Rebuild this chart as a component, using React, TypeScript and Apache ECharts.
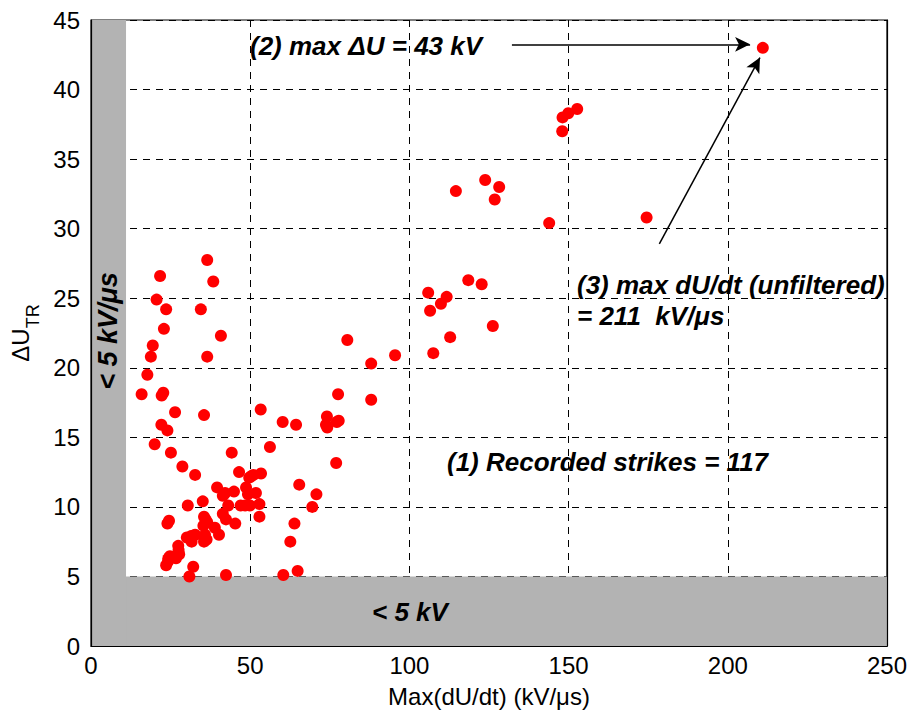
import React, { useEffect, useRef } from "react";
import * as echarts from "echarts";

// Max(dU/dt) in kV/µs for each recorded strike
const rateValues: number[] = [
  36.5, 21.7, 38.4, 20.6, 23.6, 34.5, 22.9, 40.8, 19.4, 18.8,
  36.5, 17.7, 15.9, 22.7, 22.2, 26.4, 35.5, 53.3, 60.2, 64.4,
  22.1, 24.0, 20.0, 25.1, 44.2, 56.2, 28.7, 32.7, 46.5, 49.7,
  51.0, 53.4, 65.4, 39.6, 41.4, 42.1, 44.9, 48.7, 49.3, 51.8,
  35.1, 30.4, 43.1, 47.0, 49.9, 52.9, 69.5, 52.9, 24.5, 24.0,
  35.5, 36.5, 35.3, 41.4, 42.4, 45.3, 63.9, 38.9, 40.2, 30.1,
  32.7, 31.6, 35.8, 36.3, 35.5, 62.6, 27.4, 27.7, 26.7, 24.8,
  23.6, 24.3, 32.1, 30.9, 42.4, 60.4, 64.9, 80.5, 95.5, 107.5,
  88.0, 77.6, 88.0, 74.1, 73.8, 74.2, 77.2, 77.8, 77.0, 70.8,
  114.6, 123.8, 128.2, 126.8, 143.9, 118.5, 122.7, 105.9, 111.7, 109.9,
  106.5, 126.2, 112.8, 148.1, 149.9, 152.7, 148.0, 174.5, 211.0,
  27.5, 24.2, 31.4, 35.6, 50.3, 41.8, 48.4, 36.0,
];

// ΔU_TR in kV for each recorded strike (same order as rateValues)
const deltaValues: number[] = [
  27.75, 26.6, 26.2, 24.9, 24.2, 24.2, 22.8, 22.3, 21.6, 20.8,
  20.8, 19.5, 18.1, 18.2, 18.0, 16.8, 16.6, 17.0, 16.1, 15.9,
  15.9, 15.5, 14.5, 13.9, 13.9, 14.3, 12.9, 12.3, 12.5, 12.1,
  12.3, 12.4, 11.6, 11.4, 10.8, 11.0, 11.1, 11.4, 10.9, 11.0,
  10.4, 10.1, 10.1, 10.1, 10.1, 10.2, 10.0, 9.3, 9.0, 8.8,
  9.3, 8.9, 8.65, 9.5, 9.1, 8.8, 8.8, 8.5, 8.0, 7.8,
  8.0, 7.5, 8.0, 7.65, 7.5, 7.5, 7.2, 6.6, 6.3, 6.45,
  5.8, 6.3, 5.7, 5.0, 5.1, 5.1, 5.4, 22.0, 20.9, 21.05,
  20.3, 18.1, 17.7, 16.5, 15.9, 15.7, 16.1, 16.2, 13.15, 10.9,
  32.7, 33.5, 33.0, 32.1, 30.4, 26.3, 26.0, 25.4, 25.1, 24.6,
  24.1, 23.0, 22.2, 38.0, 38.3, 38.6, 37.0, 30.8, 43.0,
  6.9, 6.1, 7.9, 7.75, 12.2, 10.9, 10.1, 9.1,
];

const xTicks = { min: 0, max: 250, step: 50 };
const yTicks = { min: 0, max: 45, step: 5 };

// Excluded zones: below 5 kV, below the dU/dt threshold
const lowVoltageLimit = 5;
const lowRateLimit = 11;

// Annotation arrows, in data units: [start, end]
const maxDeltaArrow: [number, number][] = [[132.2, 43.25], [207.0, 43.25]];
const maxRateArrow: [number, number][] = [[178.5, 28.9], [210.1, 42.3]];

const FONT = "Arial, 'Liberation Sans', Helvetica, sans-serif";

export default function App() {
  const ref = useRef<HTMLDivElement>(null);

  useEffect(() => {
    if (!ref.current) return;
    const chart = echarts.init(ref.current, undefined, { renderer: "svg" });

    const points = rateValues.map((x, i) => [x, deltaValues[i]]);

    const dashed = { show: true, lineStyle: { color: "#000", width: 1, type: [7, 6] as any } };
    const blackAxisLine = { show: true, lineStyle: { color: "#000", width: 1.2 } };

    const annotation = (text: string, x: number, y: number) => ({
      type: "text",
      x,
      y,
      z: 20,
      style: {
        text,
        fill: "#000",
        fontSize: 26,
        fontWeight: "bold",
        fontStyle: "italic",
        fontFamily: FONT,
        align: "left",
        verticalAlign: "middle",
      },
    });

    chart.setOption({
      animation: false,
      backgroundColor: "#fff",
      grid: {
        left: 91,
        right: 24,
        top: 20,
        bottom: 66.5,
        show: true,
        borderColor: "#000",
        borderWidth: 1.2,
        backgroundColor: "#fff",
      },
      xAxis: [
        {
          type: "value",
          min: xTicks.min,
          max: xTicks.max,
          interval: xTicks.step,
          position: "bottom",
          z: 10,
          axisLine: blackAxisLine,
          axisTick: { show: false },
          splitLine: { show: false },
          axisLabel: { color: "#000", fontSize: 24, fontFamily: FONT, margin: 7 },
          name: "Max(dU/dt) (kV/μs)",
          nameLocation: "middle",
          nameGap: 38,
          nameTextStyle: { color: "#000", fontSize: 24, fontFamily: FONT },
        },
        {
          type: "value",
          min: xTicks.min,
          max: xTicks.max,
          interval: xTicks.step,
          position: "bottom",
          axisLine: { show: false },
          axisTick: { show: false },
          axisLabel: { show: false },
          splitLine: dashed,
        },
      ],
      yAxis: [
        {
          type: "value",
          min: yTicks.min,
          max: yTicks.max,
          interval: yTicks.step,
          position: "left",
          z: 10,
          axisLine: blackAxisLine,
          axisTick: { show: false },
          splitLine: { show: false },
          axisLabel: { color: "#000", fontSize: 24, fontFamily: FONT, margin: 11 },
          name: "{a|ΔU}{b|TR}",
          nameLocation: "middle",
          nameGap: 46,
          nameRotate: 90,
          nameTextStyle: {
            color: "#000",
            fontFamily: FONT,
            rich: {
              a: { fontSize: 24, fontFamily: FONT, color: "#000", lineHeight: 34, verticalAlign: "top" },
              b: { fontSize: 18, fontFamily: FONT, color: "#000", lineHeight: 34, verticalAlign: "bottom" },
            },
          },
        },
        {
          type: "value",
          min: yTicks.min,
          max: yTicks.max,
          interval: yTicks.step,
          position: "left",
          axisLine: { show: false },
          axisTick: { show: false },
          axisLabel: { show: false },
          splitLine: dashed,
        },
        {
          type: "value",
          min: yTicks.min,
          max: yTicks.max,
          interval: yTicks.step,
          position: "right",
          z: 10,
          axisLine: blackAxisLine,
          axisTick: { show: false },
          axisLabel: { show: false },
          splitLine: { show: false },
        },
      ],
      series: [
        {
          name: "strikes",
          type: "scatter",
          xAxisIndex: 0,
          yAxisIndex: 0,
          z: 2,
          symbol: "circle",
          symbolSize: 12,
          itemStyle: { color: "#ff0000", opacity: 1 },
          data: points,
          markLine: {
            silent: true,
            symbol: ["none", "arrow"],
            symbolSize: [11, 15],
            label: { show: false },
            lineStyle: { color: "#000", width: 1.5, type: "solid" },
            data: [
              [{ coord: maxDeltaArrow[0] }, { coord: maxDeltaArrow[1] }],
              [{ coord: maxRateArrow[0] }, { coord: maxRateArrow[1] }],
            ],
          },
        },
        {
          name: "excluded",
          type: "scatter",
          xAxisIndex: 0,
          yAxisIndex: 0,
          z: 3,
          data: [],
          markArea: {
            silent: true,
            itemStyle: { color: "#b3b3b3", opacity: 1 },
            data: [
              [{ coord: [xTicks.min, yTicks.min] }, { coord: [xTicks.max, lowVoltageLimit] }],
              [{ coord: [xTicks.min, yTicks.min] }, { coord: [lowRateLimit, yTicks.max] }],
            ],
          },
        },
      ],
      graphic: [
        annotation("(2) max ΔU = 43 kV", 250, 46),
        annotation("(3) max dU/dt (unfiltered)", 577, 285),
        annotation("= 211  kV/μs", 577, 316),
        annotation("(1) Recorded strikes = 117", 447, 462),
        annotation("< 5 kV", 372, 612),
        {
          type: "text",
          x: 108,
          y: 331,
          rotation: Math.PI / 2,
          z: 20,
          style: {
            text: "< 5 kV/μs",
            fill: "#000",
            fontSize: 27,
            fontWeight: "bold",
            fontStyle: "italic",
            fontFamily: FONT,
            align: "center",
            verticalAlign: "middle",
          },
        },
      ],
    });

    return () => chart.dispose();
  }, []);

  return (
    <div
      ref={ref}
      style={{ position: "fixed", left: 0, top: 0, width: 911, height: 713 }}
    />
  );
}
